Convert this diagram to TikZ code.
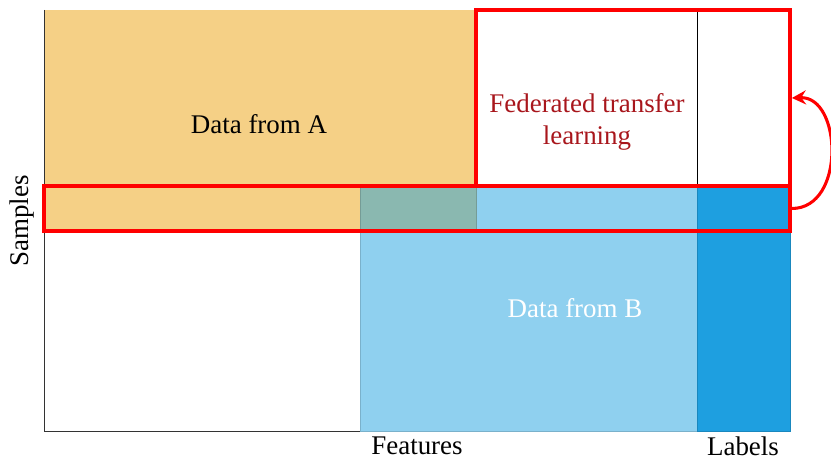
\documentclass[tikz,border=0pt]{standalone}
\usepackage{fontspec}
\setmainfont{Liberation Serif}
\usetikzlibrary{arrows.meta,fit}
\definecolor{peach}{HTML}{F5D086}
\definecolor{sea}{HTML}{8AB8B0}
\definecolor{sky}{HTML}{8FD0EF}
\definecolor{deepsky}{HTML}{1E9FE0}
\definecolor{wine}{HTML}{A8161C}

\begin{document}
\begin{tikzpicture}[
  x=0.03cm, y=-0.03cm,
  block/.style={draw=#1!85!black, line width=0.4pt, fill=#1},
  frame/.style={draw=red, line width=3.2pt, inner sep=0pt},
  txt/.style={font=\fontsize{23}{28}\selectfont, align=center},
  arr/.style={-{Stealth[length=12pt,width=12pt,inset=4pt]}, draw=red, line width=2.6pt},
]
  \useasboundingbox (0,0) rectangle (831,460);
  % data blocks
  \fill[peach] (44,10) rectangle (476,231);
  \draw[block=sky] (360,186) rectangle (697,431);
  \draw[block=deepsky] (697,186) rectangle (790,431);
  \draw[block=sea] (360,186) rectangle (476,231);
  \draw[black, line width=0.5pt] (697,10) -- (697,186);
  % axes
  \draw[black!80, line width=0.8pt] (44,10) -- (44,431) -- (360,431);
  % corners of the two highlighted areas
  \coordinate (ftl-nw) at (476,10);  \coordinate (ftl-se) at (790,186);
  \coordinate (row-nw) at (44,186);  \coordinate (row-se) at (790,231);
  \node[frame, fit=(ftl-nw)(ftl-se)] (ftl) {};
  \node[frame, fit=(row-nw)(row-se)] (row) {};
  \draw[arr] (row.east) .. controls +(54,0) and +(50,-2) .. (ftl.east);
  % texts
  \node[txt] (dataa) at (259,124) {Data from A};
  \node[txt, text=wine] (fedtl) at (587,122) {Federated transfer\\learning};
  \node[txt, text=white] (datab) at (575,308) {Data from B};
  \node[txt, rotate=90] (samples) at (22,221) {Samples};
  \node[txt] (features) at (417,446) {Features};
  \node[txt] (labels) at (743,446) {Labels};
\end{tikzpicture}
\end{document}
